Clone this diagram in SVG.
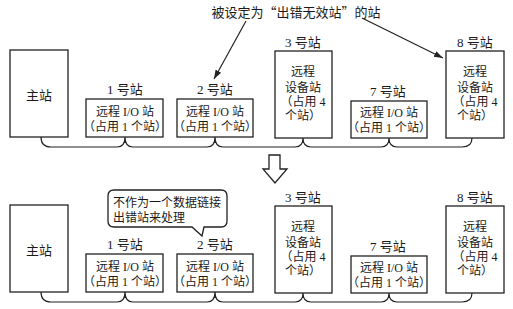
<svg xmlns="http://www.w3.org/2000/svg" width="513" height="309" viewBox="0 0 513 309">
<defs>
<style>
.box{fill:#fff;stroke:#222;stroke-width:1.3}
.ln{fill:none;stroke:#222;stroke-width:1.2}
text{font-family:"Liberation Serif","Noto Sans CJK SC",serif;fill:#1a1a1a;text-anchor:middle}
.t12{font-size:12px}
.t13{font-size:13px}
.ll{text-anchor:start}
.cjk{font-family:"Noto Sans CJK SC",sans-serif}
</style>
<marker id="ah" viewBox="0 0 10 10" refX="10" refY="5" markerWidth="9" markerHeight="9" markerUnits="userSpaceOnUse" orient="auto">
<path d="M0,1.5 L10,5 L0,8.5 Z" fill="#222"/>
</marker>
</defs>
<rect width="513" height="309" fill="#fff"/>

<!-- top row -->
<g id="top-master"><rect class="box" x="10" y="50" width="58" height="87"/><text class="t13" x="39" y="100">主站</text></g>
<g id="top-st1"><text class="t13" x="125" y="94">1 号站</text><rect class="box" x="86" y="99" width="77" height="38"/><text class="t12" x="125" y="116">远程 I/O 站</text><text class="t12" x="125" y="131">（占用 1 个站）</text></g>
<g id="top-st2"><text class="t13" x="215" y="94">2 号站</text><rect class="box" x="177" y="99" width="76" height="38"/><text class="t12" x="215" y="116">远程 I/O 站</text><text class="t12" x="215" y="131">（占用 1 个站）</text></g>
<g id="top-st3"><text class="t13" x="303" y="47">3 号站</text><rect class="box" x="275" y="51" width="57" height="87"/><text class="t12" x="303" y="76">远程</text><text class="t12" x="303" y="92">设备站</text><text class="t12" x="303" y="106">（占用 4</text><text class="t12" x="303" y="120">个站）</text></g>
<g id="top-st7"><text class="t13" x="388" y="96">7 号站</text><rect class="box" x="351" y="101" width="76" height="37"/><text class="t12" x="389" y="117">远程 I/O 站</text><text class="t12" x="389" y="132">（占用 1 个站）</text></g>
<g id="top-st8"><text class="t13" x="475" y="47">8 号站</text><rect class="box" x="446" y="51" width="58" height="87"/><text class="t12" x="475" y="76">远程</text><text class="t12" x="475" y="92">设备站</text><text class="t12" x="475" y="106">（占用 4</text><text class="t12" x="475" y="120">个站）</text></g>
<g id="note-top"><text class="t13" x="296" y="17">被设定为<tspan class="cjk">“</tspan>出错无效站<tspan class="cjk">”</tspan>的站</text></g>

<!-- transition arrow -->
<g id="down-arrow"><polygon class="box" points="269,155 280,155 280,169 287,169 275,183 263,169 269,169"/></g>

<!-- bottom row -->
<g id="bot-master"><rect class="box" x="10" y="205" width="58" height="87"/><text class="t13" x="39" y="255">主站</text></g>
<g id="bot-st1"><text class="t13" x="125" y="249">1 号站</text><rect class="box" x="86" y="254" width="77" height="38"/><text class="t12" x="125" y="271">远程 I/O 站</text><text class="t12" x="125" y="286">（占用 1 个站）</text></g>
<g id="bot-st2"><text class="t13" x="215" y="249">2 号站</text><rect class="box" x="177" y="254" width="76" height="38"/><text class="t12" x="215" y="271">远程 I/O 站</text><text class="t12" x="215" y="286">（占用 1 个站）</text></g>
<g id="bot-st3"><text class="t13" x="303" y="202">3 号站</text><rect class="box" x="275" y="206" width="57" height="87"/><text class="t12" x="303" y="231">远程</text><text class="t12" x="303" y="247">设备站</text><text class="t12" x="303" y="261">（占用 4</text><text class="t12" x="303" y="275">个站）</text></g>
<g id="bot-st7"><text class="t13" x="388" y="251">7 号站</text><rect class="box" x="351" y="256" width="76" height="37"/><text class="t12" x="389" y="272">远程 I/O 站</text><text class="t12" x="389" y="287">（占用 1 个站）</text></g>
<g id="bot-st8"><text class="t13" x="475" y="202">8 号站</text><rect class="box" x="446" y="206" width="58" height="87"/><text class="t12" x="475" y="231">远程</text><text class="t12" x="475" y="247">设备站</text><text class="t12" x="475" y="261">（占用 4</text><text class="t12" x="475" y="275">个站）</text></g>
<g id="callout"><path class="box" d="M114,190 H221 Q227,190 227,196 V221 Q227,227 221,227 H204 L202,236 L192,227 H114 Q108,227 108,221 V196 Q108,190 114,190 Z"/><text class="t12 ll" x="113" y="207">不作为一个数据链接</text><text class="t12 ll" x="113" y="222">出错站来处理</text></g>

<g id="connectors">
<path class="ln" d="M41,137 Q41,147 51,147 H117 Q125,147 125,137 Q125,147 133,147 H207 Q215,147 215,137 Q215,147 223,147 H295 Q303,147 303,138 Q303,147 311,147 H381 Q389,147 389,138 Q389,147 397,147 H462 Q472,147 472,138"/>
<path class="ln" d="M41,292 Q41,302 51,302 H117 Q125,302 125,292 Q125,302 133,302 H207 Q215,302 215,292 Q215,302 223,302 H295 Q303,302 303,293 Q303,302 311,302 H381 Q389,302 389,293 Q389,302 397,302 H462 Q472,302 472,293"/>
<line class="ln" x1="246" y1="21" x2="214" y2="79" marker-end="url(#ah)"/>
<line class="ln" x1="362" y1="18" x2="443" y2="58" marker-end="url(#ah)"/>
</g>
</svg>
